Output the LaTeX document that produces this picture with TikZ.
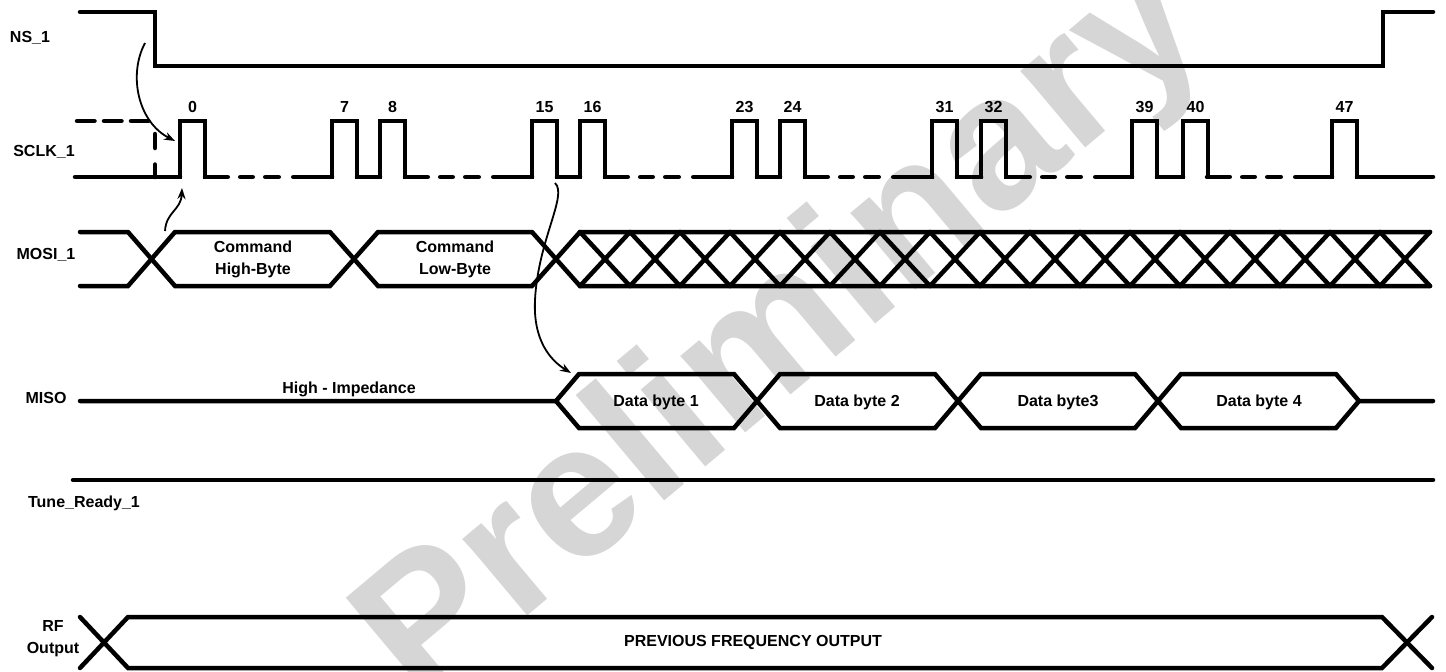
\documentclass[tikz,border=0pt]{standalone}
\usepackage{fontspec}
\setmainfont{Liberation Sans}
\usetikzlibrary{arrows.meta}

\begin{document}
\begin{tikzpicture}[x=1pt,y=-1pt,
  sig/.style={line width=4.5pt,line join=miter,line cap=round},
  gapline/.style={sig,dash pattern=on 22.75pt off 12.5pt on 12.5pt off 12.5pt on 13.5pt off 14.5pt on 200pt},
  lbl/.style={font=\bfseries\fontsize{16}{22}\selectfont,inner sep=0pt,align=center},
  cue/.style={line width=1.8pt,-{Stealth[length=11pt,width=8pt]}}]
\useasboundingbox (0,0) rectangle (1446,672);
\begin{scope}
\clip (0,0) rectangle (1446,672);
\node[rotate=40,text=black!16,font=\bfseries\fontsize{190}{190}\selectfont] (mark) at (785,336) {Preliminary};
\end{scope}
% NS_1
\node[lbl] (ns) at (30,38) {NS\_1};
\draw[sig](80,12)--(155,12)--(155,66)--(1383,66)--(1383,12)--(1433,12);
% SCLK_1
\node[lbl] (sclk) at (44,152) {SCLK\_1};
\draw[sig,dash pattern=on 17.5pt off 9.5pt](77,121)--(150,121);
\draw[sig,dash pattern=on 14pt off 16.5pt](155,134)--(155,177);
\draw[sig](75,177)--(180,177);
\foreach \x/\n in {180/0,332/7,380/8,532/15,580/16,732/23,780/24,932/31,981/32,1132/39,1183/40,1332/47}{
  \draw[sig](\x-8,177)--(\x,177)--(\x,121)--(\x+25,121)--(\x+25,177)--(\x+33,177);
  \node[lbl] (p\n) at (\x+12.5,107) {\n};
}
\foreach \a/\b in {357/380,557/580,757/780,957/981,1157/1183,1357/1433}
  \draw[sig](\a,177)--(\b,177);
\foreach \a/\b in {205/332,405/532,605/732,805/932,1007/1132,1207/1332}
  \draw[gapline](\a,177)--(\b,177);
% MOSI_1
\node[lbl] (mosi) at (46,255) {MOSI\_1};
\draw[sig](80,232)--(128,232)--(175,286)--(330,286)--(378,232)--(532,232)--(580,286)--(1430,286);
\draw[sig](80,286)--(128,286)--(175,232)--(330,232)--(378,286)--(532,286)--(580,232)--(1430,232);
\foreach \k in {0,...,16}
  \draw[sig](580+50*\k,232)--(630+50*\k,286) (580+50*\k,286)--(630+50*\k,232);
\node[lbl] (hibyte) at (253,259) {Command\\High-Byte};
\node[lbl] (lobyte) at (455,259) {Command\\Low-Byte};
% MISO
\node[lbl] (miso) at (46,398) {MISO};
\draw[sig](80,401)--(556,401)--(579,374)--(734,374)--(780,428)--(935,428)--(981,374)--(1135,374)--(1181,428)--(1336,428)--(1359,401)--(1433,401);
\draw[sig](556,401)--(579,428)--(734,428)--(780,374)--(935,374)--(981,428)--(1135,428)--(1181,374)--(1336,374)--(1359,401);
\node[lbl,anchor=base] (hiz) at (349,393) {High - Impedance};
\node[lbl] (d1) at (656,402) {Data byte 1};
\node[lbl] (d2) at (857,402) {Data byte 2};
\node[lbl] (d3) at (1058,402) {Data byte3};
\node[lbl] (d4) at (1259,402) {Data byte 4};
% Tune_Ready_1
\draw[sig](73,480)--(1433,480);
\node[lbl] (tune) at (84,503) {Tune\_Ready\_1};
% RF Output
\node[lbl] (rf) at (53,639) {RF\\Output};
\draw[sig](80,617)--(128,668)--(1382,668)--(1432,617);
\draw[sig](80,668)--(128,617)--(1382,617)--(1432,668);
\node[lbl] (prev) at (753,642) {PREVIOUS FREQUENCY OUTPUT};
% arrows
\coordinate (nsfall) at (145,43);
\coordinate (clk0) at (175,141);
\coordinate (mosix) at (165,231);
\coordinate (clk0low) at (182,188);
\coordinate (clk15) at (555,183);
\coordinate (d1start) at (571,373);
\draw[cue](nsfall) .. controls (128,75) and (138,122) .. (clk0);
\draw[cue](mosix) .. controls (166,212) and (181,210) .. (clk0low);
\draw[cue](clk15) .. controls (568,195) and (538,240) .. (535,300) .. controls (533,340) and (550,360) .. (d1start);
\end{tikzpicture}
\end{document}
